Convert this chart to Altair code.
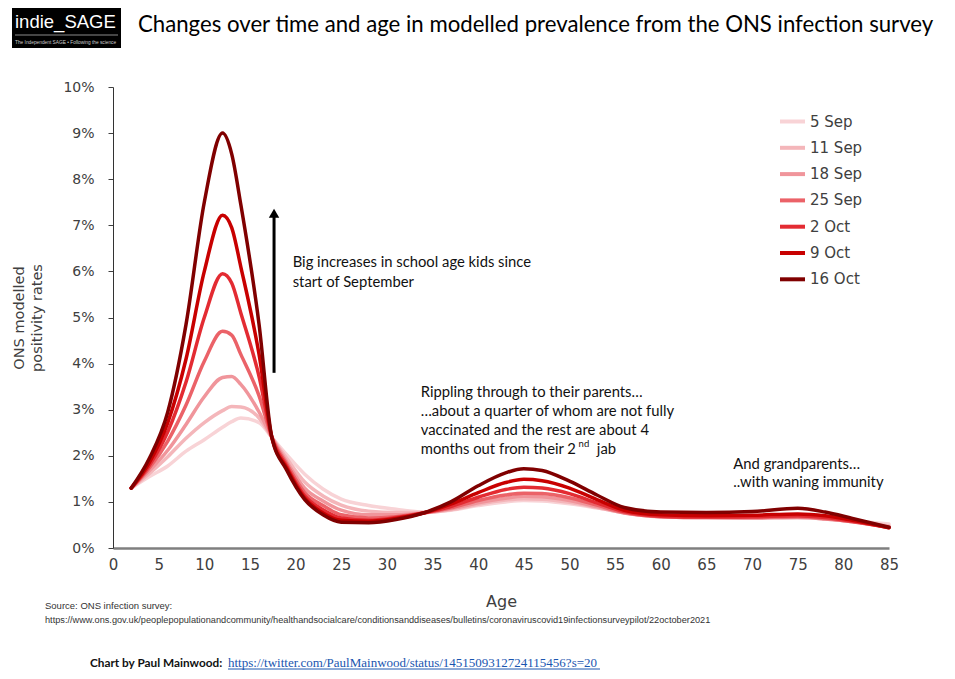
import altair as alt
import pandas as pd

# ---------------- data ----------------
ages = [2, 4, 6, 8, 10, 12, 13, 14, 16, 17.4, 19, 21, 23, 25, 28, 31, 34, 37, 40,
        43, 45, 47, 50, 53, 56, 60, 65, 70, 75, 78, 81, 85]

series_names = ["5 Sep", "11 Sep", "18 Sep", "25 Sep", "2 Oct", "9 Oct", "16 Oct"]
series_colors = ["#f8d3d6", "#f4b6ba", "#f0959b", "#eb6268", "#e32b32", "#c80000", "#800000"]

sep05 = [1.30, 1.55, 1.78, 2.10, 2.35, 2.62, 2.74, 2.82, 2.72, 2.40, 2.03, 1.60, 1.28, 1.06, 0.92, 0.84,
         0.78, 0.82, 0.92, 1.00, 1.03, 1.02, 0.96, 0.87, 0.77, 0.70, 0.68, 0.67, 0.67, 0.64, 0.59, 0.52]
sep11 = [1.30, 1.62, 1.98, 2.38, 2.72, 2.98, 3.07, 3.06, 2.82, 2.40, 1.95, 1.43, 1.13, 0.93, 0.80, 0.77,
         0.77, 0.83, 0.95, 1.04, 1.07, 1.06, 0.99, 0.88, 0.76, 0.69, 0.67, 0.66, 0.66, 0.63, 0.58, 0.48]
sep18 = [1.30, 1.68, 2.12, 2.68, 3.28, 3.70, 3.72, 3.55, 2.95, 2.40, 1.88, 1.30, 1.02, 0.82, 0.72, 0.72,
         0.76, 0.85, 0.98, 1.08, 1.12, 1.11, 1.03, 0.90, 0.76, 0.68, 0.66, 0.65, 0.66, 0.63, 0.57, 0.46]
sep25 = [1.30, 1.74, 2.32, 3.10, 4.05, 4.70, 4.62, 4.20, 3.30, 2.40, 1.83, 1.20, 0.92, 0.72, 0.65, 0.68,
         0.76, 0.87, 1.03, 1.15, 1.19, 1.18, 1.09, 0.93, 0.77, 0.68, 0.66, 0.66, 0.68, 0.64, 0.57, 0.45]
oct02 = [1.30, 1.80, 2.52, 3.60, 5.00, 5.95, 5.75, 5.10, 3.72, 2.40, 1.78, 1.13, 0.83, 0.65, 0.60, 0.66,
         0.76, 0.90, 1.10, 1.27, 1.32, 1.30, 1.18, 0.98, 0.79, 0.69, 0.67, 0.68, 0.70, 0.66, 0.58, 0.44]
oct09 = [1.30, 1.86, 2.72, 4.10, 6.00, 7.22, 6.95, 6.10, 4.20, 2.40, 1.74, 1.08, 0.76, 0.60, 0.58, 0.64,
         0.76, 0.95, 1.20, 1.42, 1.49, 1.46, 1.30, 1.05, 0.82, 0.72, 0.70, 0.71, 0.74, 0.70, 0.60, 0.44]
oct16 = [1.30, 1.95, 2.95, 4.85, 7.50, 9.00, 8.55, 7.45, 4.85, 2.40, 1.70, 1.05, 0.72, 0.56, 0.55, 0.62,
         0.76, 1.00, 1.35, 1.63, 1.72, 1.68, 1.45, 1.15, 0.88, 0.78, 0.77, 0.79, 0.86, 0.78, 0.64, 0.45]

all_series = [sep05, sep11, sep18, sep25, oct02, oct09, oct16]

x_ticks = list(range(0, 90, 5))
y_ticks = [i / 100 for i in range(11)]

# annotation texts (anchored in data coordinates: age, rate %)
ann_text = ["Big increases in school age kids since", "start of September",
            "Rippling through to their parents\u2026",
            "\u2026about a quarter of whom are not fully",
            "vaccinated and the rest are about 4",
            "months out from their 2",
            "jab",
            "And grandparents\u2026", "..with waning immunity"]
ann_age = [19.68, 19.68, 33.71, 33.71, 33.71, 33.71, 53.0, 67.95, 67.95]
ann_rate = [6.18, 5.75, 3.369, 2.957, 2.544, 2.126, 2.126, 1.80, 1.403]

sup_text = ["nd"]
sup_age = [51.0]
sup_rate = [2.25]

arrow_age = [17.64]
arrow_low = [3.80]
arrow_high = [7.20]
arrow_tip = [7.26]

# ---------------- frames ----------------
rows = []
for name, vals in zip(series_names, all_series):
    for a, v in zip(ages, vals):
        rows.append({"age": a, "rate": v / 100, "date": name})
df = pd.DataFrame(rows)

ann_df = pd.DataFrame({"age": ann_age, "rate": [r / 100 for r in ann_rate], "text": ann_text})
sup_df = pd.DataFrame({"age": sup_age, "rate": [r / 100 for r in sup_rate], "text": sup_text})
arrow_df = pd.DataFrame({"age": arrow_age, "low": [r / 100 for r in arrow_low],
                         "high": [r / 100 for r in arrow_high], "tip": [r / 100 for r in arrow_tip]})
one = pd.DataFrame({"k": [0]})

AX_FONT = "DejaVu Sans"
TXT_FONT = "Lato"

xscale = alt.Scale(domain=[0, 85], nice=False, zero=False)
yscale = alt.Scale(domain=[0, 0.10], nice=False)
cscale = alt.Scale(domain=series_names, range=series_colors)

xaxis = alt.Axis(values=x_ticks, title="Age", ticks=False, grid=False, labelFont=AX_FONT,
                 labelFontSize=15, labelColor="#404040", labelPadding=9, domainColor="#7f7f7f",
                 domainWidth=2.5, titleFont=AX_FONT, titleFontSize=16, titleFontWeight="normal",
                 titleColor="#404040", titlePadding=21, labelFlush=False)
yaxis = alt.Axis(values=y_ticks, format=".0%", title=None, grid=False, labelFont=AX_FONT,
                 labelFontSize=14, labelColor="#404040", labelPadding=14, tickSize=5,
                 tickColor="#404040", domainColor="#333333", domainWidth=1)

legend = alt.Legend(title=None, orient="none", legendX=665, legendY=20, symbolType="stroke",
                    symbolStrokeWidth=4, symbolSize=625, labelFont=AX_FONT, labelFontSize=15,
                    labelColor="#404040", labelOffset=3, rowPadding=3.3, padding=0)

X = alt.X("age:Q", scale=xscale, axis=xaxis)
Y = alt.Y("rate:Q", scale=yscale, axis=yaxis)
C = alt.Color("date:N", scale=cscale, legend=legend)

layers = []
for name in series_names:
    layers.append(
        alt.Chart(df[df["date"] == name]).mark_line(interpolate="monotone", strokeWidth=3.5,
                                                    strokeCap="round")
        .encode(x=X, y=Y, color=C)
    )

arrow_line = alt.Chart(arrow_df).mark_rule(color="black", strokeWidth=3).encode(
    x=X, y=alt.Y("low:Q", scale=yscale, axis=yaxis), y2="high:Q")
arrow_head = alt.Chart(arrow_df).mark_point(shape="triangle-up", filled=True, size=110,
                                            color="black", opacity=1).encode(
    x=X, y=alt.Y("tip:Q", scale=yscale, axis=yaxis))

ann = alt.Chart(ann_df).mark_text(font=TXT_FONT, fontSize=14.8, align="left", baseline="middle",
                                  color="#111111").encode(x=X, y=Y, text="text:N")
sup = alt.Chart(sup_df).mark_text(font=TXT_FONT, fontSize=9.5, align="left", baseline="middle",
                                  color="#111111").encode(x=X, y=Y, text="text:N")

# decorations in pixel space
title = alt.Chart(one).mark_text(text="Changes over time and age in modelled prevalence from the ONS infection survey",
                                 font=TXT_FONT, fontSize=22.2, align="left", baseline="middle",
                                 color="#000000").encode(x=alt.value(25), y=alt.value(-62))
ytitle = alt.Chart(one).mark_text(text=["ONS modelled", "positivity rates"], font=AX_FONT,
                                  fontSize=14.5, lineHeight=18, angle=270, align="center",
                                  baseline="middle", color="#404040").encode(
    x=alt.value(-93), y=alt.value(231))
logo_box = alt.Chart(one).mark_rect(color="#000000").encode(
    x=alt.value(-101), x2=alt.value(8), y=alt.value(-79), y2=alt.value(-39))
logo_text = alt.Chart(one).mark_text(text="indie_SAGE", font="Liberation Sans", fontSize=18.5,
                                     align="left", baseline="alphabetic", color="white").encode(
    x=alt.value(-98), y=alt.value(-59))
logo_rule = alt.Chart(one).mark_rule(color="#8a8a8a", strokeWidth=1).encode(
    x=alt.value(-98), x2=alt.value(5), y=alt.value(-52))
logo_small = alt.Chart(one).mark_text(text="The Independent SAGE \u2022 Following the science",
                                      font="Liberation Sans", fontSize=4.8, align="left",
                                      baseline="middle", color="#cccccc").encode(
    x=alt.value(-98), y=alt.value(-44))
src1 = alt.Chart(one).mark_text(text="Source: ONS infection survey:", font="Liberation Sans",
                                fontSize=9.5, align="left", baseline="middle", color="#333333").encode(
    x=alt.value(-68), y=alt.value(519))
src2 = alt.Chart(one).mark_text(
    text="https://www.ons.gov.uk/peoplepopulationandcommunity/healthandsocialcare/conditionsanddiseases/bulletins/coronaviruscovid19infectionsurveypilot/22october2021",
    font="Liberation Sans", fontSize=9.2, align="left", baseline="middle", color="#333333").encode(
    x=alt.value(-68), y=alt.value(533))
foot1 = alt.Chart(one).mark_text(text="Chart by Paul  Mainwood:", font=TXT_FONT, fontSize=11.8,
                                 fontWeight="bold", align="left", baseline="middle",
                                 color="#111111").encode(x=alt.value(-23), y=alt.value(576))
foot2 = alt.Chart(one).mark_text(text="https://twitter.com/PaulMainwood/status/1451509312724115456?s=20",
                                 font="Liberation Serif", fontSize=13, align="left",
                                 baseline="middle", color="#1a56b0").encode(
    x=alt.value(115), y=alt.value(576))
foot_ul = alt.Chart(one).mark_rule(color="#1a56b0", strokeWidth=1).encode(
    x=alt.value(115), x2=alt.value(487), y=alt.value(582))

chart = alt.layer(
    *layers, arrow_line, arrow_head, ann, sup, title, ytitle, logo_box, logo_text, logo_rule,
    logo_small, src1, src2, foot1, foot2, foot_ul
).properties(
    width=776, height=461,
    autosize=alt.AutoSizeParams(type="none"),
    padding={"left": 105, "top": 79, "right": 58, "bottom": 123},
    background="white",
).configure_view(stroke=None)

chart.save("out.html", embed_options={"renderer": "svg", "actions": False})
